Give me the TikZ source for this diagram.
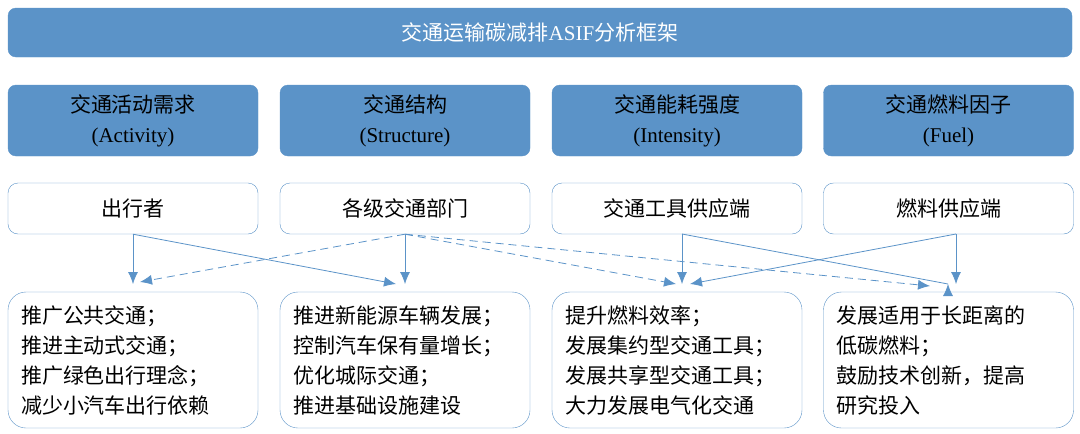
\documentclass[tikz,border=0pt]{standalone}
\usepackage{fontspec}
\setmainfont{Liberation Serif}
\newfontfamily\cjk{Noto Sans CJK SC}
\usetikzlibrary{arrows.meta}
\definecolor{asifblue}{HTML}{5B93C8}
\tikzset{
  headbar/.style={draw=asifblue,fill=asifblue,rounded corners=8pt,text=black},
  factorbox/.style={headbar,minimum width=250pt,minimum height=71pt,align=center,font=\fontsize{21}{30}\selectfont},
  actorbox/.style={draw=asifblue,fill=white,rounded corners=10pt,minimum width=250pt,minimum height=51pt,font=\fontsize{21}{26}\selectfont\cjk},
  policybox/.style={draw=asifblue,fill=white,rounded corners=18pt,minimum width=250pt,minimum height=136pt,align=left,text width=224pt,font=\fontsize{21}{30}\selectfont\cjk},
  link/.style={draw=asifblue,thick,-{Latex[length=12pt,width=10pt]}},
  dlink/.style={link,dashed,dash pattern=on 8pt off 5pt}
}
\begin{document}
\begin{tikzpicture}[x=1pt,y=-1pt]
\useasboundingbox (0,0) rectangle (1080,434);
\node[headbar,minimum width=1064pt,minimum height=49pt,text=white,font=\fontsize{21}{26}\selectfont] (top) at (540,32.5) {{\cjk 交通运输碳减排}ASIF{\cjk 分析框架}};
% factors
\node[factorbox] (act) at (133,120.5) {{\cjk 交通活动需求}\\(Activity)};
\node[factorbox] (str) at (405,120.5) {{\cjk 交通结构}\\(Structure)};
\node[factorbox] (int) at (677,120.5) {{\cjk 交通能耗强度}\\(Intensity)};
\node[factorbox] (fue) at (948.5,120.5) {{\cjk 交通燃料因子}\\(Fuel)};
% actors
\node[actorbox] (trav) at (133,208.5) {出行者};
\node[actorbox] (dept) at (405,208.5) {各级交通部门};
\node[actorbox] (tool) at (677,208.5) {交通工具供应端};
\node[actorbox] (supp) at (948.5,208.5) {燃料供应端};
% policies
\node[policybox] (pa) at (133,360) {推广公共交通；\\推进主动式交通；\\推广绿色出行理念；\\减少小汽车出行依赖};
\node[policybox] (pb) at (405,360) {推进新能源车辆发展；\\控制汽车保有量增长；\\优化城际交通；\\推进基础设施建设};
\node[policybox] (pc) at (677,360) {提升燃料效率；\\发展集约型交通工具；\\发展共享型交通工具；\\大力发展电气化交通};
\node[policybox] (pd) at (948.5,360) {发展适用于长距离的\\低碳燃料；\\鼓励技术创新，提高\\研究投入};
% connectors
\coordinate (ta) at (133,284); \coordinate (tb) at (396,284);
\coordinate (tc) at (676,284); \coordinate (td) at (947,284);
\draw[link] (trav.south) -- (ta);
\draw[link] (trav.south) -- (tb);
\draw[link] (dept.south) -- (405,284);
\draw[dlink] (dept.south) -- (140,282);
\draw[dlink] (dept.south) -- (tc);
\draw[dlink] (dept.south) -- (930,286);
\draw[link] (682,234) -- (682,284);
\draw[link] (682,234) -- (tb -| 948,0) ++(0,0);
\draw[link] (956,234) -- (956,284);
\draw[link] (956,234) -- (690,284);
\end{tikzpicture}
\end{document}
